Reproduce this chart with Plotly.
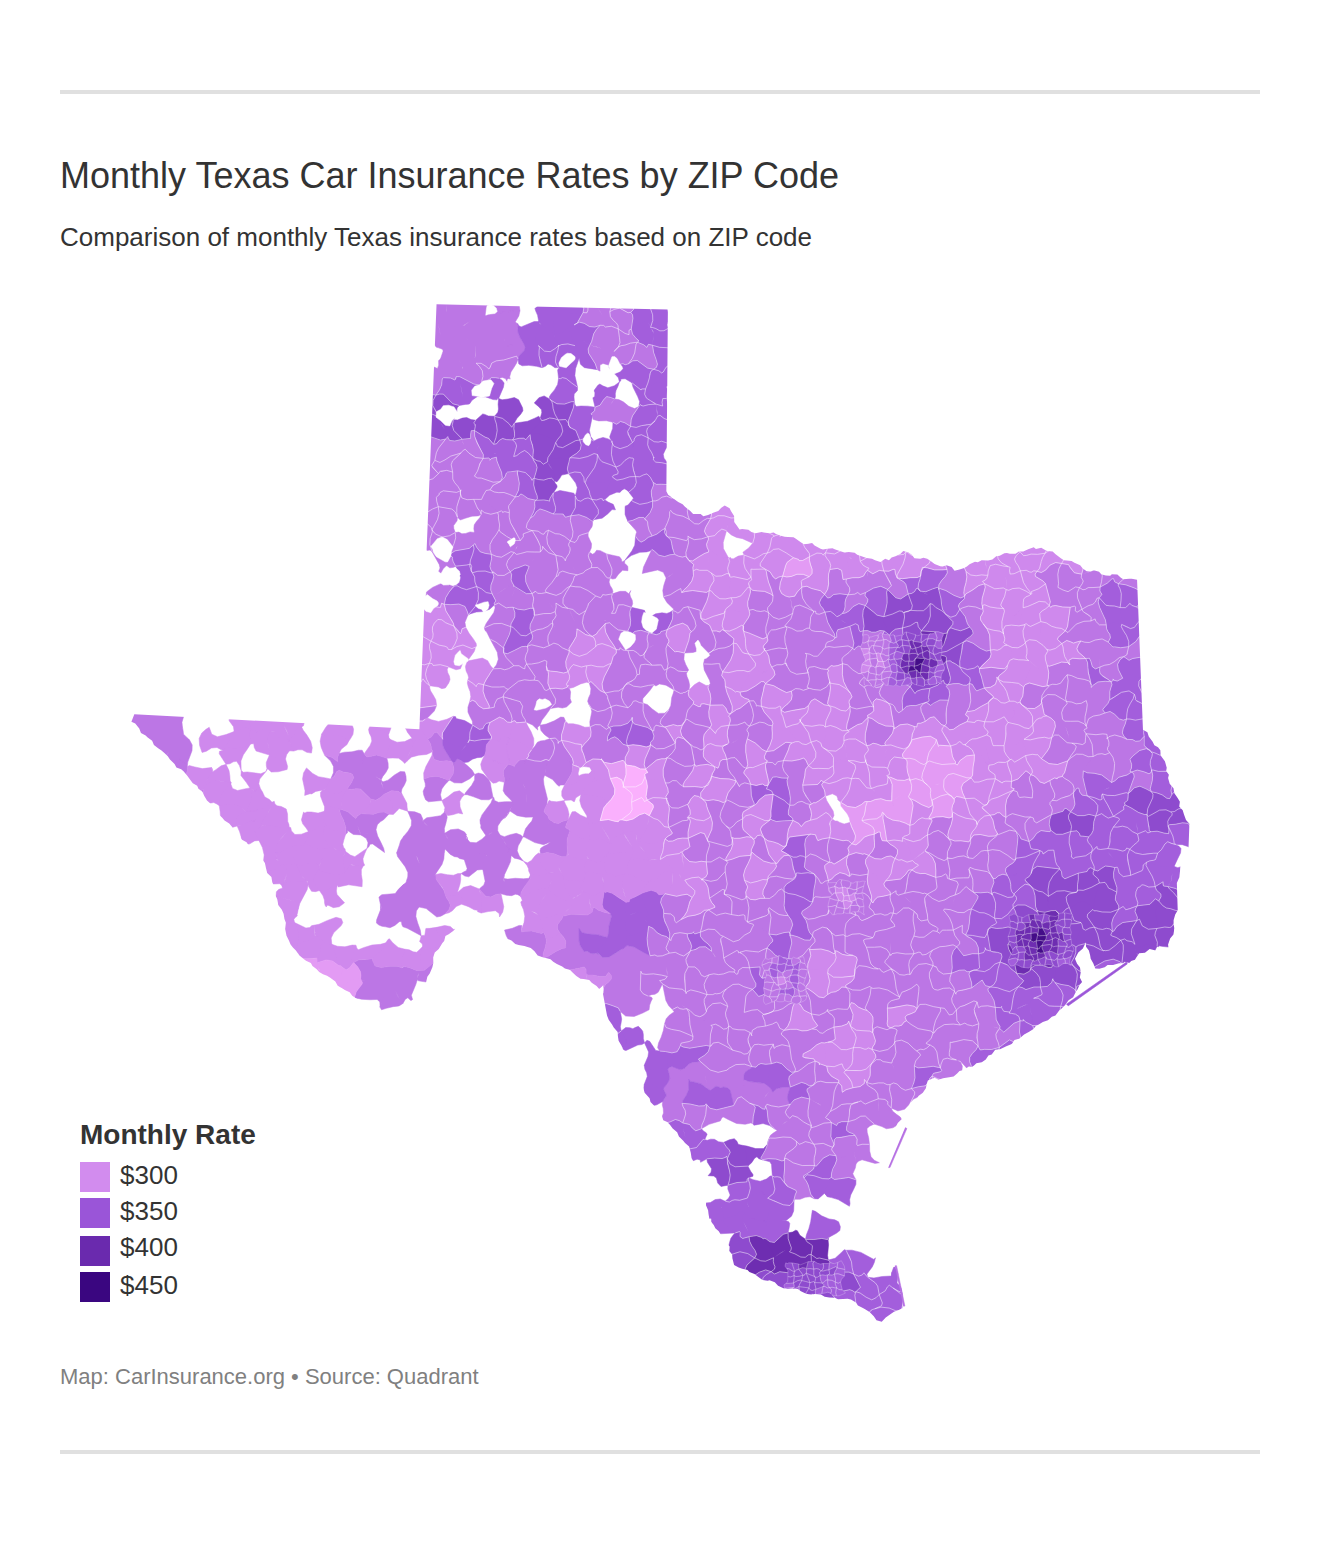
import math
import plotly.graph_objects as go

TITLE = "Monthly Texas Car Insurance Rates by ZIP Code"
SUBTITLE = "Comparison of monthly Texas insurance rates based on ZIP code"
SOURCE = "Map: CarInsurance.org \u2022 Source: Quadrant"
LEGEND_TITLE = "Monthly Rate"
LEGEND_LABELS = ["$300", "$350", "$400", "$450"]
LEGEND_RATES = [300, 350, 400, 450]

# colour stops of the rate scale
SCALE_RATES = [260, 300, 350, 400, 450]
SCALE_COLORS = ["#ffb4ff", "#d28cee", "#9a55d8", "#6a2aae", "#3a0680"]

# rate for each map code (upper case: outlined, lower case: merged with neighbours)
RATE_CODES = {"A": 264, "B": 285, "C": 303, "D": 320, "E": 342, "F": 362, "G": 396, "H": 440}

# Texas outline, lon / lat
TEXAS_LON = [-103.04, -100.0, -100.0, -99.69, -99.5, -99.24, -99.05, -98.54, -98.03, -97.65, -97.27, -96.95, -96.32,
             -95.74, -95.22, -94.6, -94.0, -94.02, -93.82, -93.66, -93.49, -93.53, -93.68, -93.69, -93.82, -94.06,
             -94.34, -94.71, -94.85, -94.95, -94.89, -95.09, -95.42, -95.95, -96.44, -96.76, -96.95, -97.19, -97.37,
             -97.38, -97.38, -97.25, -97.13, -97.13, -97.4, -97.75, -98.1, -98.58, -99.1, -99.22, -99.43, -99.52,
             -99.77, -100.13, -100.37, -100.66, -100.71, -101.12, -101.73, -102.1, -102.47, -102.71, -102.87, -102.99,
             -103.34, -103.78, -104.21, -104.52, -104.67, -104.92, -105.21, -105.53, -106.25, -106.66, -106.63, -103.06]
TEXAS_LAT = [36.5, 36.5, 34.56, 34.38, 34.3, 34.44, 34.17, 34.12, 33.98, 33.93, 33.82, 33.92, 33.72,
             33.86, 33.93, 33.66, 33.55, 31.97, 31.77, 31.28, 30.95, 30.69, 30.33, 30.06, 29.64, 29.63,
             29.51, 29.47, 29.75, 29.59, 29.32, 29.09, 28.89, 28.62, 28.39, 28.33, 28.07, 27.86, 27.76,
             27.3, 26.9, 26.5, 26.05, 25.93, 25.8, 26.02, 26.07, 26.18, 26.4, 26.66, 26.92, 27.4,
             27.77, 28.13, 28.55, 29.03, 29.29, 29.5, 29.77, 29.84, 29.96, 29.76, 29.34, 29.17,
             28.97, 29.19, 29.43, 29.62, 30.04, 30.56, 30.75, 31.05, 31.64, 31.92, 32.0, 32.0]

# barrier islands, lon / lat
ISLANDS = {
    "padre_n": ([-97.07, -97.05, -97.26, -97.28], [27.84, 27.83, 27.42, 27.42]),
    "padre_s": ([-97.22, -97.2, -97.11, -97.13], [26.38, 26.38, 25.95, 25.95]),
    "galveston": ([-95.09, -94.34, -94.33, -95.07], [29.1, 29.52, 29.5, 29.08]),
}
ISLAND_RATES = [325, 325, 348]

# areas without ZIP data: lon, lat, radius in degrees
GAP_LON = [-102.33, -102.85, -102.4, -102.0, -101.3, -100.7, -101.05, -101.05, -102.85, -102.75, -100.2, -99.55,
           -101.95, -102.3, -100.55, -100.45, -103.0, -102.6, -105.0, -104.35, -101.55, -101.0]
GAP_LAT = [36.44, 35.33, 35.6, 35.7, 35.95, 35.9, 35.6, 35.13, 33.9, 33.65, 33.2, 32.9,
           34.0, 33.3, 34.5, 33.0, 33.35, 32.75, 30.3, 30.05, 32.3, 31.6]
GAP_SIZE = [.06, .09, .1, .07, .08, .08, .06, .05, .12, .1, .1, .08,
            .05, .06, .06, .08, .08, .07, .12, .1, .07, .06]

# state-wide rate grid: first column, then one code per 0.25 deg of longitude
GRID_WEST = -106.7
GRID_NORTH = 36.7
CELL_LON = 0.25
CELL_LAT = 0.2
GRID_START = [14, 14, 14, 14, 14, 14, 14, 14, 14, 14, 14, 14, 14, 14, 14, 14, 14, 14, 14, 14, 14, 14, 14,
              0, 0, 0, 2, 3, 5, 6, 6, 7, 8, 8, 8, 8, 9, 10, 24, 24, 25, 25, 26, 27, 27, 28, 29, 29, 28, 29, 30, 30, 31, 34, 36]
GRID_CODES = [
    "ddddd.eeDdDeE",
    "ddddd.eeDdDeE",
    "dddddeeeeDDEE",
    ".ddddeEEeDDdE",
    "dddDD..E..EEE",
    "dEEE...E.E.EE",
    "FF..F.FFeDDEE",
    "FFFFFFFFE.EEE",
    "dDDEEEFfEEEEE",
    "dDDDEEFfEEEEE",
    "DDDDDEF.EEEED",
    "DDDDDDEEEE.ED DDCC",
    "DD.DDDDDD..DD DDCCCC",
    "DDDDDDDDD..EE DDC.CCCCCCCCCCCCCCCC",
    ".DEEDDDDDDD.D DCCCCCBCCCCCCCDCCCCCCDDDDD",
    "..EEDEDDDD... DCCCCDCCDDDDEEDCCCCDDDDDE",
    ".DEEDDDDDDD.. DDCCDDDDEDEFFFEDCCCDDDEEE",
    "CCD.DEDDDDDEE DDCCDDDDEEFFFFEDCCCCDDEEE",
    "CCC.DEDDCCDDD CDDCCDDDDEDEFGFDCCCCDDEEE",
    "CCC.DDDDCCDDD D.DCCDDDDDDEGGFECCCCCDDDE",
    "CC.CDDDCCCDDD D.DCCDDDCDDEFFEEDCCDDEDEE",
    "C..CDDDD.DDD. DCDCDCDDCDDDEEDDCCDDDDEEE",
    "D..DDDD..DDDD DDCDDCCCCDCDDDDCCCCDDDEEE",
    "ddd..cccc.c.c.cc EEcc.DcDEE DCDCDD CCCCC D CCCCCCCC DDDD EE",
    "ddd.ccccc.c.cccdee ccDDCDDCDDDCDCD CCCCCC BB CCCCC DDDDD EE",
    ".dd..c.c..ddd..cd.cdddccBA CDCDDCDD CCCCC BBB CCCCC DDD EEE",
    "dcc.c..ccddd.d.d.dd.ccAA CDDCD EE DD CCC BBBB CC DDDD EE D EE",
    "dccc...cccc..c.ddd c.cAAC DCDDC E D C.BBBCBCCC DDD EEE FFF",
    "ccc.ccdd.dd..d.dd ccccc DCDDCDC CCBBCCDCC DDD FF EEE FF",
    "ccccc.d.dddddd.d ccccc CDDCDC E DD C D CC DDDD EEEEEEEEE",
    ".ccccc..dd.dd.cc cccccc CDDCD E D C D CCC DDDD EEEEEEEE",
    "ccccc..ddc.dd cccccccc CDDCD E DDD C DDDDD EE FFFF EEEE",
    "c.c..dddccc.c ccc eee D C DDDD E DDDDDDDD EEE FFFF EE FF",
    "c....dd.....ccddeee DDDDDD E DDDDDDDD EE F G FFF E FFF",
    "ccc....cc..ddcdeee DD E DDD E DDDDDDDDD E F GG FFFFFF",
    "cccccccc....ddddddd DDDDDDD CC DDDDD EE F GG FFFFF",
    "bbbdddd......ccdd DDDDD EE D CC DDDDDD EE FFFF E",
    ".bddd.........dd. DDDDDDDDDDDDDDDD EEEE F",
    "E..DDDDDDCDDCDCDDDDEEEE",
    "EE.DDDDDDDDCCDDDDDDDEE",
    ".eeeDDDDDCCCDDDDDEE",
    ".eddddeeDDCCDDED",
    "edeedddeDDDDDDD",
    "DDDDEDDDDDD",
    "EE...DDDED",
    "EEFFDDDDD",
    "FF.EDED",
    ".EEEDEE",
    "eeeee",
    "eeee.E",
    "FGGGG",
    "FGGGGEE",
    "FFFGFEEE",
    "FEEEE",
    "EEE",
]

# denser blocks of ZIP codes: west edge, north edge, codes per 1/12 deg lon and 1/15 deg lat
METRO_WEST = [-97.5, -95.75, -97.95, -98.75, -98.5]
METRO_NORTH = [33.05, 30.05, 30.45, 29.65, 26.42]
METRO_CODES = [
    ["DDDDEEFFFFEE", "DDDDEFFGGFFE", "CDDDEFFGGGFF", "CDCDEEGGGGFF",
     "CDCDEFGGHGGE", "CDDDEFGHHGFE", "DDDDEFFGGGFE", "DDDDEEEFFFEE"],
    ["FFFGFFGFF", "FFGGGGGFF", "FGGGHGGFF", "FGGHHGGGF",
     "FGGGHGGFF", "FFGGHGGFF", "FFGGGFFFF", "EFFFFFFEE"],
    ["DDDDD", "DCCDD", "DCCCD", "DDCDD", "DDDDD"],
    ["DDEEDD", "DEEEED", "DEDDED", "DDCDED", "DDDDED", "DDEEDD", "DDDDDD"],
    ["FFGFFFEE", "FFFFFFFE", "FFFFFEEE", "EFFFFEEE", "EEFFEEEE"],
]

# map projection (conic equal area) and its placement on the page
PARALLELS = (27.5, 35.0)
CENTER = (-99.0, 31.0)
PX_PER_RADIAN = 5414.0
CENTER_PX = (744.0, 830.0)
W, H = 1320, 1544


def hex_rgb(c):
    return tuple(int(c[i:i + 2], 16) for i in (1, 3, 5))


def rate_color(rate):
    for k in range(len(SCALE_RATES) - 1):
        if rate <= SCALE_RATES[k + 1]:
            t = (rate - SCALE_RATES[k]) / (SCALE_RATES[k + 1] - SCALE_RATES[k])
            a, b = hex_rgb(SCALE_COLORS[k]), hex_rgb(SCALE_COLORS[k + 1])
            return "rgb(%d,%d,%d)" % tuple(round(a[n] + (b[n] - a[n]) * t) for n in range(3))
    return SCALE_COLORS[-1]


_p1, _p2 = math.radians(PARALLELS[0]), math.radians(PARALLELS[1])
_n = (math.sin(_p1) + math.sin(_p2)) / 2
_c = math.cos(_p1) ** 2 + 2 * _n * math.sin(_p1)
_r0 = math.sqrt(_c - 2 * _n * math.sin(math.radians(CENTER[1]))) / _n


def project(lon, lat):
    r = math.sqrt(_c - 2 * _n * math.sin(math.radians(lat))) / _n
    t = _n * math.radians(lon - CENTER[0])
    return round(r * math.sin(t), 5), round(_r0 - r * math.cos(t), 5)


def bend(lon, lat, amp, f):
    """Shared wavy distortion so that the cell borders read as irregular boundaries."""
    dx = math.sin(f * (lat * 9.1 + lon * 3.7)) + .7 * math.sin(f * (lon * 17.3 - lat * 13.1)) + .4 * math.sin(f * (lat * 29 + lon * 23))
    dy = math.sin(f * (lon * 8.3 - lat * 4.9)) + .7 * math.sin(f * (lat * 16.1 + lon * 14.7)) + .4 * math.sin(f * (lon * 31 - lat * 19))
    return lon + amp * dx, lat + amp * dy * .8


def edge(a, b, n, amp, f):
    return [project(*bend(a[0] + (b[0] - a[0]) * k / n, a[1] + (b[1] - a[1]) * k / n, amp, f)) for k in range(n + 1)]


def cell(west, north, dlon, dlat, n, amp, f):
    c = [(west, north), (west + dlon, north), (west + dlon, north - dlat), (west, north - dlat)]
    pts = []
    for k in range(4):
        pts += edge(c[k], c[(k + 1) % 4], n, amp, f)[:-1]
    pts.append(pts[0])
    return pts


def add_fill(fig, rings, color):
    xs, ys = [], []
    for ring in rings:
        xs += [p[0] for p in ring] + [None]
        ys += [p[1] for p in ring] + [None]
    fig.add_trace(go.Scatter(x=xs, y=ys, mode="lines", fill="toself", fillcolor=color,
                             line=dict(color=color, width=0.5), hoverinfo="skip"))


def add_borders(fig, paths, opacity, width):
    xs, ys = [], []
    for path in paths:
        xs += [p[0] for p in path] + [None]
        ys += [p[1] for p in path] + [None]
    fig.add_trace(go.Scatter(x=xs, y=ys, mode="lines", line=dict(color="rgba(255,255,255,%s)" % opacity, width=width),
                             hoverinfo="skip"))


grid = {}
for i, (start, codes) in enumerate(zip(GRID_START, GRID_CODES)):
    for j, code in enumerate(codes.replace(" ", "")):
        if code != ".":
            grid[(i, start + j)] = code

fills, borders = {}, []
for (i, c), code in grid.items():
    west, north = GRID_WEST + c * CELL_LON, GRID_NORTH - i * CELL_LAT
    fills.setdefault(code.upper(), []).append(cell(west, north, CELL_LON, CELL_LAT, 5, .05, 1.0))
    east, south = grid.get((i, c + 1)), grid.get((i + 1, c))
    nw, ne, sw, se = (west, north), (west + CELL_LON, north), (west, north - CELL_LAT), (west + CELL_LON, north - CELL_LAT)
    if east and (code.isupper() or east.isupper()):
        if code.upper() != east.upper() or (i * 5 + c * 3) % 7 > 1:
            borders.append(edge(ne, se, 5, .05, 1.0))
    if south and (code.isupper() or south.isupper()):
        if code.upper() != south.upper() or (i * 3 + c * 5) % 7 != 2:
            borders.append(edge(sw, se, 5, .05, 1.0))

metro_fills, metro_borders = {}, []
for west, north, block in zip(METRO_WEST, METRO_NORTH, METRO_CODES):
    for i, row in enumerate(block):
        for j, code in enumerate(row):
            ring = cell(west + j / 12, north - i / 15, 1 / 12, 1 / 15, 3, .016, 2.3)
            metro_fills.setdefault(code, []).append(ring)
            metro_borders.append(ring)

fig = go.Figure()
for code, rings in fills.items():
    add_fill(fig, rings, rate_color(RATE_CODES[code]))
add_borders(fig, borders, 0.7, 0.7)
for code, rings in metro_fills.items():
    add_fill(fig, rings, rate_color(RATE_CODES[code]))
add_borders(fig, metro_borders, 0.42, 0.5)

# gaps in the ZIP coverage
gap_rings = []
for lon, lat, size in zip(GAP_LON, GAP_LAT, GAP_SIZE):
    ring = []
    for k in range(13):
        t = 2 * math.pi * k / 12
        ring.append(project(*bend(lon + size * 1.2 * math.cos(t), lat + size * math.sin(t), .025, 1.6)))
    gap_rings.append(ring)
add_fill(fig, gap_rings, "#ffffff")

# everything outside the state outline is left white (one ring with a keyhole)
outer = [project(-112, 40), project(-86, 40), project(-86, 23), project(-112, 23), project(-112, 40)]
inner = []
for k in range(len(TEXAS_LON)):
    a = (TEXAS_LON[k], TEXAS_LAT[k])
    b = (TEXAS_LON[(k + 1) % len(TEXAS_LON)], TEXAS_LAT[(k + 1) % len(TEXAS_LON)])
    if abs(a[0] - b[0]) < .05 or abs(a[1] - b[1]) < .01:  # surveyed straight borders
        inner.append(project(*a))
    else:  # rivers and coast are slightly rough
        n = max(2, int(math.hypot(a[0] - b[0], a[1] - b[1]) / .05))
        inner += edge(a, b, n, .014, 2.4)[:-1]
inner.append(inner[0])
ring = outer + inner[::-1] + [outer[0]]
fig.add_trace(go.Scatter(x=[p[0] for p in ring], y=[p[1] for p in ring], mode="none", fill="toself",
                         fillcolor="#ffffff", hoverinfo="skip"))

for (lons, lats), rate in zip(ISLANDS.values(), ISLAND_RATES):
    add_fill(fig, [[project(a, b) for a, b in zip(lons, lats)]], rate_color(rate))

fig.update_layout(
    width=W, height=H, margin=dict(l=0, r=0, t=0, b=0, pad=0), paper_bgcolor="white", plot_bgcolor="white",
    showlegend=False, hovermode=False,
    font=dict(family="Liberation Sans, Arial, sans-serif", color="#333333"),
    xaxis=dict(visible=False, range=[-CENTER_PX[0] / PX_PER_RADIAN, (W - CENTER_PX[0]) / PX_PER_RADIAN], fixedrange=True),
    yaxis=dict(visible=False, range=[(CENTER_PX[1] - H) / PX_PER_RADIAN, CENTER_PX[1] / PX_PER_RADIAN], fixedrange=True),
)


def text(x, y, s, size, color="#333333", bold=False):
    fig.add_annotation(xref="paper", yref="paper", x=x / W, y=1 - y / H, text="<b>%s</b>" % s if bold else s,
                       showarrow=False, xanchor="left", yanchor="middle",
                       font=dict(size=size, color=color), borderpad=0, borderwidth=0)


text(60, 176, TITLE, 36)
text(60, 237, SUBTITLE, 26)
text(80, 1134, LEGEND_TITLE, 28, bold=True)
text(60, 1376, SOURCE, 22, "#808080")
LEGEND_TOPS = [1162, 1198, 1236, 1272]
LABEL_Y = [1175, 1211, 1247, 1285]
for top, y, label, rate in zip(LEGEND_TOPS, LABEL_Y, LEGEND_LABELS, LEGEND_RATES):
    fig.add_shape(type="rect", xref="paper", yref="paper", x0=80 / W, x1=110 / W, y0=1 - top / H, y1=1 - (top + 30) / H,
                  fillcolor=rate_color(rate), line_width=0)
    text(120, y, label, 26)
for y0, y1 in [(90, 94), (1450, 1454)]:
    fig.add_shape(type="rect", xref="paper", yref="paper", x0=60 / W, x1=1260 / W, y0=1 - y0 / H, y1=1 - y1 / H,
                  fillcolor="#e0e0e0", line_width=0)

fig.write_html("out.html", config=dict(displayModeBar=False, staticPlot=True),
               post_script="document.body.style.margin='0';document.body.style.overflow='hidden';")
